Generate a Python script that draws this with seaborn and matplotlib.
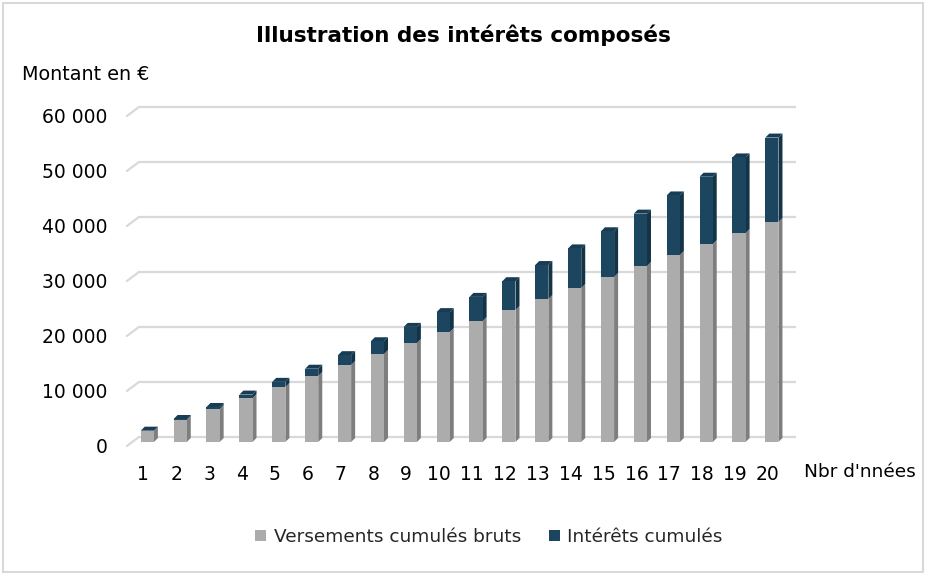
import matplotlib
matplotlib.use("Agg")
import matplotlib.pyplot as plt
import matplotlib.transforms as mtransforms
from matplotlib.patches import Polygon, Rectangle
from matplotlib.ticker import FuncFormatter
import pandas as pd
import seaborn as sns

# données
annees = list(range(1, 21))
versements = [2000, 4000, 6000, 8000, 10000, 12000, 14000, 16000, 18000, 20000,
              22000, 24000, 26000, 28000, 30000, 32000, 34000, 36000, 38000, 40000]
interets = [60, 182, 367, 618, 937, 1325, 1785, 2318, 2928, 3616,
            4384, 5236, 6173, 7198, 8314, 9523, 10829, 12234, 13741, 15353]
y_ticks = [0, 10000, 20000, 30000, 40000, 50000, 60000]

GRIS = "#acacac"
GRIS_COTE = "#7e7e7e"
BLEU = "#1c4660"
BLEU_COTE = "#133347"
BLEU_HAUT = "#183c53"
GRILLE = "#d9d9d9"

df = pd.DataFrame({"annee": annees, "versements": versements, "interets": interets})
df["total"] = df["versements"] + df["interets"]

sns.set_theme(style="white")
plt.rcParams["font.family"] = ["DejaVu Sans"]

fig = plt.figure(figsize=(9.27, 5.75), dpi=100)
ax = fig.add_axes([0.1412, 0.2313, 0.7092, 0.5739])

# barres avant (empilées)
sns.barplot(data=df, x="annee", y="total", color=BLEU, width=0.40, saturation=1,
            ax=ax, zorder=3, edgecolor="none")
sns.barplot(data=df, x="annee", y="versements", color=GRIS, width=0.40, saturation=1,
            ax=ax, zorder=3, edgecolor="none")
ax.set_xlim(-0.5, len(annees) - 0.5)
ax.set_ylim(0, 60000)

# effet 3D : côtés et dessus
prof_px = 4
dx = prof_px * len(annees) / (0.7092 * 927)
dy = prof_px * 60000 / (0.5739 * 575)
for i, row in df.iterrows():
    x0 = i - 0.20
    x1 = i + 0.20
    g = row["versements"]
    t = row["total"]
    ax.add_patch(Polygon([(x1, 0), (x1 + dx, dy), (x1 + dx, g + dy), (x1, g)],
                         closed=True, facecolor=GRIS_COTE, edgecolor="none", zorder=2))
    ax.add_patch(Polygon([(x1, g), (x1 + dx, g + dy), (x1 + dx, t + dy), (x1, t)],
                         closed=True, facecolor=BLEU_COTE, edgecolor="none", zorder=2))
    ax.add_patch(Polygon([(x0, t), (x0 + dx, t + dy), (x1 + dx, t + dy), (x1, t)],
                         closed=True, facecolor=BLEU_HAUT, edgecolor="none", zorder=2))

# quadrillage sur le mur du fond + plancher en perspective
arriere = mtransforms.offset_copy(ax.transData, fig=fig, x=8, y=5, units="dots")
for v in y_ticks:
    ax.plot([-0.5, len(annees) - 0.5], [v, v], color=GRILLE, lw=1.6,
            transform=arriere, zorder=1, solid_capstyle="butt", clip_on=False)
    xa, ya = ax.transData.transform((-0.5, v))
    ax.plot([xa - 4, xa + 8], [ya - 4, ya + 5], color=GRILLE, lw=1.6,
            transform=None, zorder=1, clip_on=False)

for s in ax.spines.values():
    s.set_visible(False)
ax.grid(False)
ax.set_xlabel("")
ax.set_ylabel("")
ax.set_yticks(y_ticks)
ax.yaxis.set_major_formatter(FuncFormatter(lambda v, p: f"{v:,.0f}".replace(",", " ")))
ax.set_xticks(range(len(annees)))
ax.set_xticklabels([str(a) for a in annees])
ax.tick_params(axis="y", length=0, pad=17, labelsize=13.5, labelcolor="#000000")
ax.tick_params(axis="x", length=0, pad=16.5, labelsize=13.5, labelcolor="#000000")
for lab in ax.get_yticklabels():
    lab.set_transform(lab.get_transform() + mtransforms.ScaledTranslation(0, -3 / 100, fig.dpi_scale_trans))
for lab in ax.get_xticklabels():
    lab.set_transform(lab.get_transform() + mtransforms.ScaledTranslation(-4 / 100, 0, fig.dpi_scale_trans))
ax.patch.set_alpha(0)

# textes
fig.text(463 / 927, 1 - 35 / 575, "Illustration des intérêts composés", ha="center", va="center",
         fontsize=15.5, fontweight="bold", color="#000000")
fig.text(22 / 927, 1 - 75 / 575, "Montant en €", ha="left", va="center", fontsize=13.8, color="#000000")
fig.text(804 / 927, 1 - 472 / 575, "Nbr d'nnées", ha="left", va="center", fontsize=13.3, color="#000000")

# légende
handles = [Rectangle((0, 0), 1, 1, facecolor=GRIS, edgecolor="none"),
           Rectangle((0, 0), 1, 1, facecolor=BLEU, edgecolor="none")]
fig.legend(handles, ["Versements cumulés bruts", "Intérêts cumulés"], loc="center",
           bbox_to_anchor=(489 / 927, 1 - 537 / 575), ncol=2, frameon=False,
           fontsize=13.3, handlelength=0.6, handleheight=0.6, handletextpad=0.4,
           columnspacing=1.5)

# cadre du graphique
fig.patches.append(Rectangle((3 / 927, 3 / 575), 920 / 927, 569 / 575, transform=fig.transFigure,
                             facecolor="none", edgecolor=GRILLE, lw=1.5))

fig.savefig("out.png", dpi=100)
